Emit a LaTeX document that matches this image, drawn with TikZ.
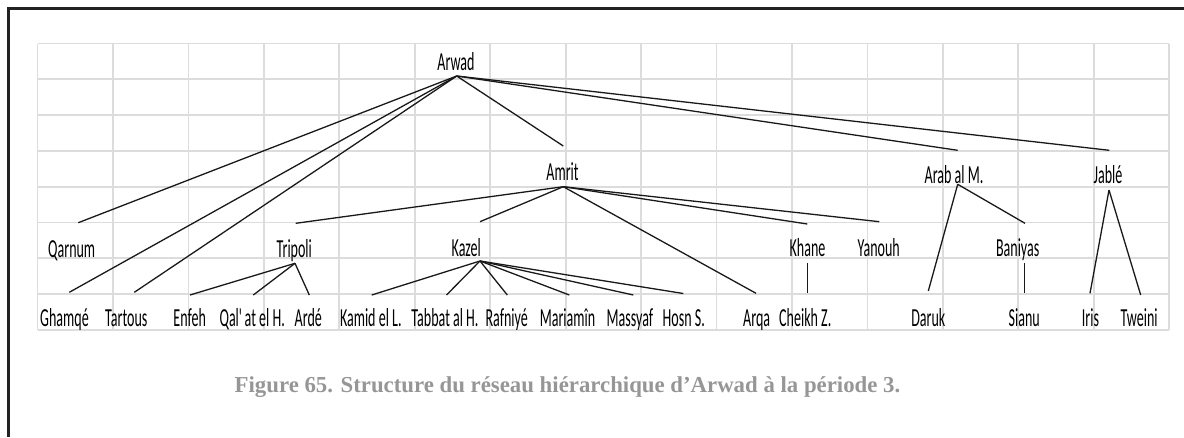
\documentclass[tikz,border=0pt]{standalone}
\usepackage{fontspec}
\setmainfont{Liberation Serif}
\newfontfamily\cellfont[FakeStretch=0.54]{Carlito}
\definecolor{gridG}{RGB}{220,220,220}
\definecolor{capG}{RGB}{150,150,150}
\definecolor{frameK}{RGB}{34,34,34}

\begin{document}
\begin{tikzpicture}[x=1pt,y=-1pt,
  site/.style={anchor=base,inner sep=0pt,font=\cellfont\fontsize{26}{30}\selectfont},
  link/.style={line width=1.3pt,black!90},
  cell/.style={gridG,line width=1.8pt}]
\useasboundingbox (0,0) rectangle (1184,437);
\draw[line width=2.2pt,frameK] (8.5,437) -- (8.5,8.5) -- (1184,8.5);
% sheet grid
\foreach \i in {0,...,15} \draw[cell] (37.5+75.45*\i,43.5) -- (37.5+75.45*\i,330);
\foreach \j in {0,...,8} \draw[cell] (37.5,43.5+35.8*\j) -- (1169.3,43.5+35.8*\j);
% sites
\node[site] (arwad) at (456,70) {Arwad};
\node[site] (amrit) at (562.5,180.7) {Amrit};
\node[site] (arabm) at (954,183) {Arab al M.};
\node[site] (jable) at (1108,183) {Jablé};
\node[site] (qarnum) at (71.7,257) {Qarnum};
\node[site] (tripoli) at (294.3,257) {Tripoli};
\node[site] (kazel) at (466.3,256) {Kazel};
\node[site] (khane) at (807.5,256.5) {Khane};
\node[site] (yanouh) at (878.7,256) {Yanouh};
\node[site] (baniyas) at (1017.7,256.5) {Baniyas};
\begin{scope}
\clip (0,0) rectangle (1184,329.5);
\node[site] (ghamqe) at (64.5,326.7) {Ghamqé};
\node[site] (tartous) at (126.3,326.7) {Tartous};
\node[site] (enfeh) at (189.7,326.7) {Enfeh};
\node[site] (qalat) at (252.2,326.7) {Qal\textquotesingle at el H.};
\node[site] (arde) at (308.3,326.7) {Ardé};
\node[site] (kamid) at (370.8,326.7) {Kamid el L.};
\node[site] (tabbat) at (445,326.7) {Tabbat al H.};
\node[site] (rafniye) at (506.7,326.7) {Rafniyé};
\node[site] (mariamin) at (567.5,326.7) {Mariamîn};
\node[site] (massyaf) at (630,326.7) {Massyaf};
\node[site] (hosn) at (683.8,326.7) {Hosn S.};
\node[site] (arqa) at (756.7,326.7) {Arqa};
\node[site] (cheikh) at (805.3,326.7) {Cheikh Z.};
\node[site] (daruk) at (928.3,326.7) {Daruk};
\node[site] (sianu) at (1024.2,326.7) {Sianu};
\node[site] (iris) at (1090.5,326.7) {Iris};
\node[site] (tweini) at (1139.2,326.7) {Tweini};
\end{scope}
% link ends
\coordinate (arwad-dn) at (456.7,76);
\coordinate (amrit-up) at (563.3,146);
\coordinate (amrit-dn) at (563.3,186.7);
\coordinate (arabm-up) at (957.7,150.3);
\coordinate (arabm-dn) at (957.7,184.3);
\coordinate (jable-up) at (1109.3,150.3);
\coordinate (jable-dn) at (1109,190);
\coordinate (qarnum-up) at (78.3,222.7);
\coordinate (ghamqe-up) at (69.3,292.3);
\coordinate (tartous-up) at (134.3,292.3);
\coordinate (tripoli-up) at (295.7,223.3);
\coordinate (tripoli-dn) at (295,263.3);
\coordinate (kazel-up) at (480,221.7);
\coordinate (kazel-dn) at (480,261);
\coordinate (khane-up) at (807.3,224);
\coordinate (khane-dn) at (807.3,263.3);
\coordinate (yanouh-up) at (879.3,221.7);
\coordinate (baniyas-up) at (1025,223.3);
\coordinate (baniyas-dn) at (1024.3,263.3);
\coordinate (enfeh-up) at (190,295);
\coordinate (qalat-up) at (253.3,295);
\coordinate (arde-up) at (309.3,295);
\coordinate (kamid-up) at (371.7,295);
\coordinate (tabbat-up) at (446.5,295);
\coordinate (rafniye-up) at (507.3,295);
\coordinate (mariamin-up) at (569.3,295);
\coordinate (massyaf-up) at (633.3,295);
\coordinate (hosn-up) at (683.3,293.5);
\coordinate (arqa-up) at (756,293.3);
\coordinate (cheikh-up) at (807.3,292.7);
\coordinate (daruk-up) at (928.3,291);
\coordinate (sianu-up) at (1024.3,292.7);
\coordinate (iris-up) at (1090,293.3);
\coordinate (tweini-up) at (1140.7,295);
% hierarchy
\foreach \c in {qarnum,ghamqe,tartous,amrit,arabm,jable} \draw[link] (arwad-dn) -- (\c-up);
\foreach \c in {tripoli,kazel,arqa,khane,yanouh} \draw[link] (amrit-dn) -- (\c-up);
\foreach \c in {enfeh,qalat,arde} \draw[link] (tripoli-dn) -- (\c-up);
\foreach \c in {kamid,tabbat,rafniye,mariamin,massyaf,hosn} \draw[link] (kazel-dn) -- (\c-up);
\draw[link] (khane-dn) -- (cheikh-up);
\foreach \c in {daruk,baniyas} \draw[link] (arabm-dn) -- (\c-up);
\draw[link] (baniyas-dn) -- (sianu-up);
\foreach \c in {iris,tweini} \draw[link] (jable-dn) -- (\c-up);
\node[anchor=base,inner sep=0pt,text=capG,font=\bfseries\fontsize{22.8}{26}\selectfont] (caption) at (567.5,392) {Figure 65. Structure du réseau hiérarchique d’Arwad à la période 3.};
\end{tikzpicture}
\end{document}
